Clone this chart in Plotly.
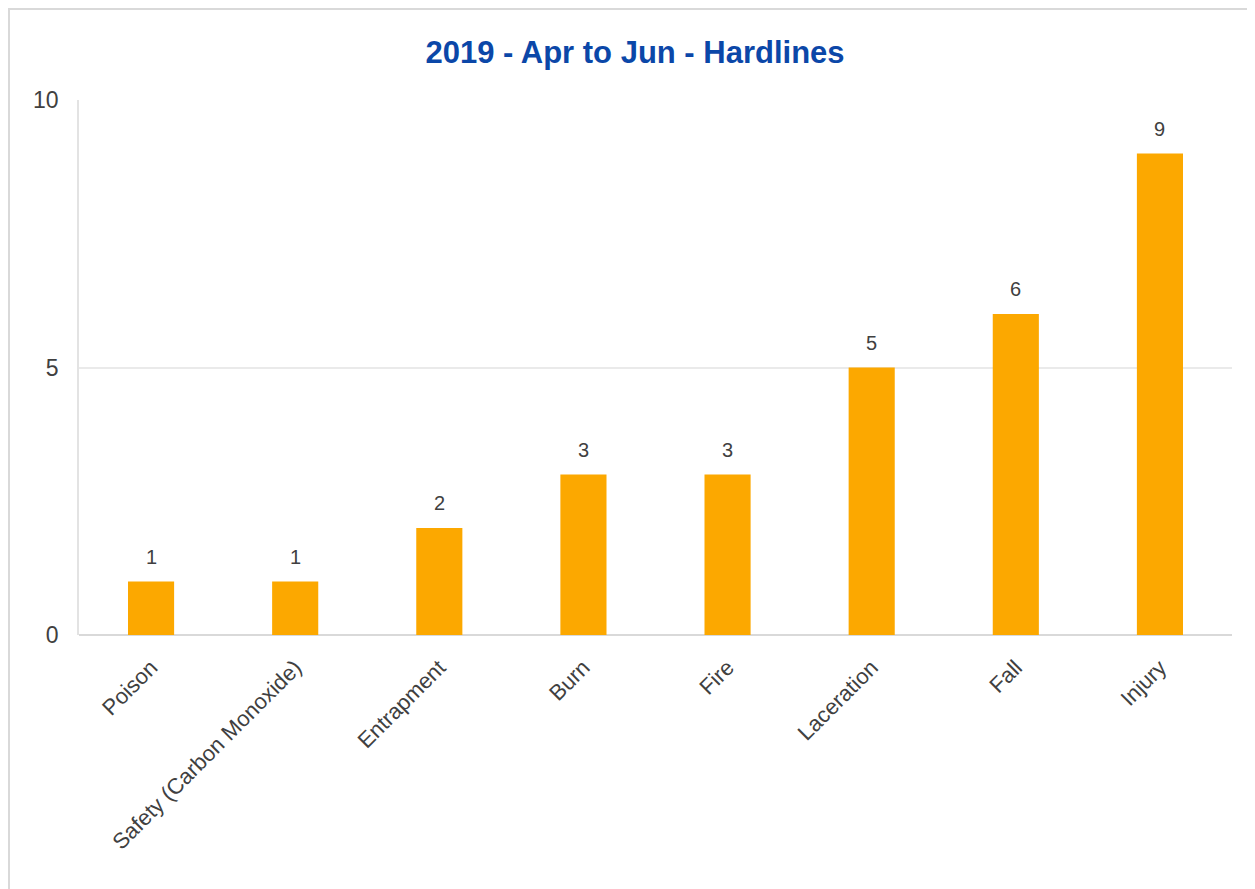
import plotly.graph_objects as go

categories = ["Poison", "Safety (Carbon Monoxide)", "Entrapment", "Burn", "Fire",
              "Laceration", "Fall", "Injury"]
values = [1, 1, 2, 3, 3, 5, 6, 9]
y_ticks = [0, 5, 10]

# page has an 8px body margin, so the figure is sized/offset to compensate
W, H = 1247, 881
L, R, T, B = 71, 23, 92, 254
pw, ph = W - L - R, H - T - B

FONT = "Liberation Sans Narrow, Arial Narrow, Liberation Sans, Arial, sans-serif"

fig = go.Figure(go.Bar(
    x=categories, y=values,
    marker=dict(color="#FCA800", line=dict(width=0)),
    cliponaxis=False,
))

for c, v in zip(categories, values):
    fig.add_annotation(x=c, y=v, text=str(v), showarrow=False,
                       yanchor="middle", yshift=25,
                       font=dict(family=FONT, size=20, color="#404040"))

fig.update_layout(
    width=W, height=H,
    margin=dict(l=L, r=R, t=T, b=B),
    paper_bgcolor="white", plot_bgcolor="white",
    bargap=0.68,
    showlegend=False,
    title=dict(text="<b>2019 - Apr to Jun - Hardlines</b>", x=(635 - 8) / W, xanchor="center",
               y=1 - 44 / H, yanchor="middle",
               font=dict(family=FONT, size=31, color="#0B47A8")),
    xaxis=dict(tickangle=-45, tickfont=dict(family=FONT, size=22, color="#404040"),
               showgrid=False, showline=False, zeroline=False,
               ticks="outside", ticklen=10, tickcolor="rgba(0,0,0,0)"),
    yaxis=dict(range=[0, 10], tickvals=y_ticks, ticktext=[str(t) for t in y_ticks],
               tickfont=dict(family=FONT, size=23, color="#404040"),
               showgrid=True, gridcolor="#EAEAEA", gridwidth=1.5,
               zeroline=True, zerolinecolor="#D9D9D9", zerolinewidth=2,
               showline=True, linecolor="#E3E3E3", linewidth=1.5,
               ticks="outside", ticklen=14, tickcolor="rgba(0,0,0,0)"),
    shapes=[dict(type="rect", xref="paper", yref="paper",
                 x0=(1 - L) / pw, x1=(W + 20 - L) / pw,
                 y0=-(B + 20) / ph, y1=1 + (T - 1) / ph,
                 line=dict(color="#D9D9D9", width=2), fillcolor="rgba(0,0,0,0)",
                 layer="below")],
)

fig.write_html("out.html")
